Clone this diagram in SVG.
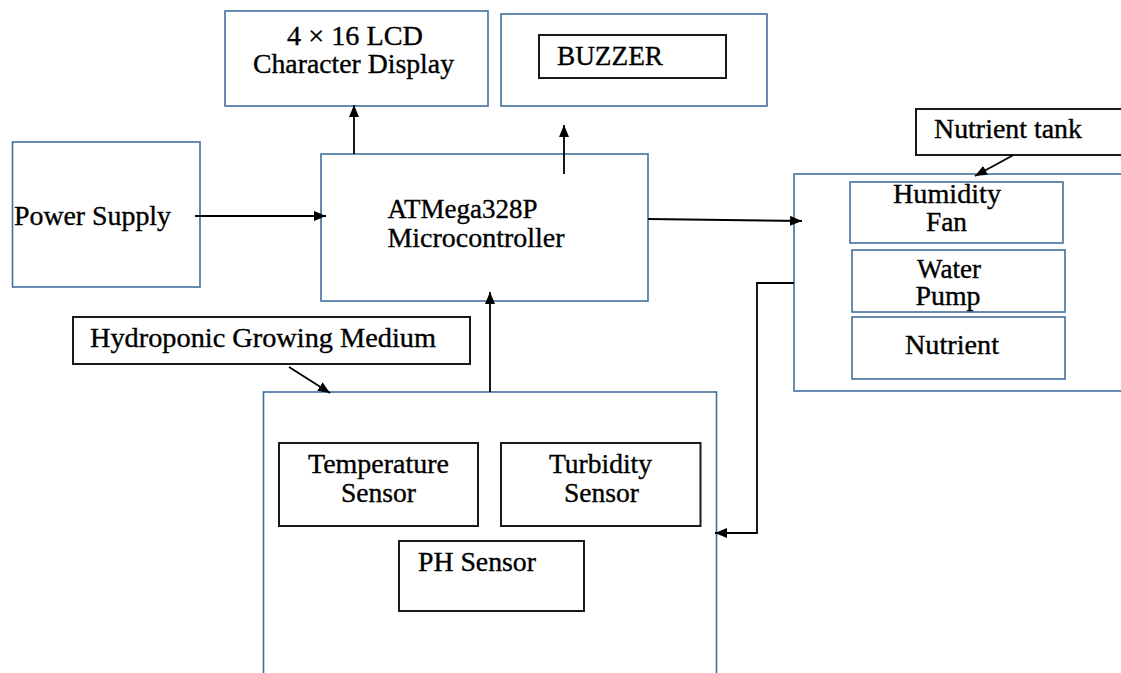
<svg xmlns="http://www.w3.org/2000/svg" width="1121" height="673" viewBox="0 0 1121 673">
<defs>
<marker id="ah" viewBox="0 0 12 10" refX="12" refY="5" markerWidth="12" markerHeight="10" markerUnits="userSpaceOnUse" orient="auto">
<path d="M0,0 L12,5 L0,10 z" fill="#000"/>
</marker>
</defs>
<style>
.b{fill:#fff;stroke:#41709e;stroke-width:1.6}
.k{fill:#fff;stroke:#1a1a1a;stroke-width:2}
text{font-family:"Liberation Serif","Times New Roman",serif;font-size:27px;fill:#000;stroke:#000;stroke-width:0.35}
.ln{fill:none;stroke:#000;stroke-width:1.8}
</style>
<rect width="1121" height="673" fill="#fff"/>
<g id="lcd">
<rect class="b" x="225" y="11" width="263" height="95"/>
<text x="287" y="45" textLength="136" lengthAdjust="spacingAndGlyphs">4 × 16 LCD</text>
<text x="253" y="73" textLength="201" lengthAdjust="spacingAndGlyphs">Character Display</text>
</g>
<g id="buzzer">
<rect class="b" x="501" y="14" width="266" height="92"/>
<rect class="k" x="539" y="35" width="187" height="43"/>
<text x="557" y="65" textLength="106" lengthAdjust="spacingAndGlyphs">BUZZER</text>
</g>
<g id="power">
<rect class="b" x="12.5" y="142" width="187.5" height="145"/>
<text x="14" y="225" textLength="157" lengthAdjust="spacingAndGlyphs">Power Supply</text>
</g>
<g id="mcu">
<rect class="b" x="321" y="154" width="327" height="147"/>
<text x="387.5" y="218" textLength="150" lengthAdjust="spacingAndGlyphs">ATMega328P</text>
<text x="387.5" y="247" textLength="177" lengthAdjust="spacingAndGlyphs">Microcontroller</text>
</g>
<g id="nutrient-tank">
<rect class="k" x="916" y="109" width="210" height="46"/>
<text x="934" y="138" textLength="148" lengthAdjust="spacingAndGlyphs">Nutrient tank</text>
</g>
<g id="actuators">
<rect class="b" x="794" y="174" width="335" height="217"/>
</g>
<g id="humidity-fan">
<rect class="b" x="850" y="182" width="213" height="61"/>
<text x="893" y="203" textLength="108" lengthAdjust="spacingAndGlyphs">Humidity</text>
<text x="926" y="231" textLength="41" lengthAdjust="spacingAndGlyphs">Fan</text>
</g>
<g id="water-pump">
<rect class="b" x="852" y="250" width="213" height="62"/>
<text x="917" y="278" textLength="64" lengthAdjust="spacingAndGlyphs">Water</text>
<text x="915.5" y="305" textLength="65" lengthAdjust="spacingAndGlyphs">Pump</text>
</g>
<g id="nutrient">
<rect class="b" x="852" y="317" width="213" height="62"/>
<text x="905" y="354" textLength="94" lengthAdjust="spacingAndGlyphs">Nutrient</text>
</g>
<g id="hydroponic">
<rect class="k" x="73" y="317" width="397" height="47"/>
<text x="90" y="347" textLength="346" lengthAdjust="spacingAndGlyphs">Hydroponic Growing Medium</text>
</g>
<g id="sensors">
<rect class="b" x="263.5" y="392" width="453" height="300"/>
</g>
<g id="temperature">
<rect class="k" x="279" y="443" width="199" height="83"/>
<text x="308" y="473" textLength="141" lengthAdjust="spacingAndGlyphs">Temperature</text>
<text x="341" y="502" textLength="75" lengthAdjust="spacingAndGlyphs">Sensor</text>
</g>
<g id="turbidity">
<rect class="k" x="501" y="443" width="199.5" height="83"/>
<text x="549" y="473" textLength="103" lengthAdjust="spacingAndGlyphs">Turbidity</text>
<text x="564" y="502" textLength="75" lengthAdjust="spacingAndGlyphs">Sensor</text>
</g>
<g id="ph">
<rect class="k" x="399" y="541" width="185" height="70"/>
<text x="418" y="571" textLength="118" lengthAdjust="spacingAndGlyphs">PH Sensor</text>
</g>
<g id="connectors">
<line class="ln" x1="354" y1="154" x2="354" y2="105" marker-end="url(#ah)"/>
<line class="ln" x1="564" y1="174" x2="564" y2="125" marker-end="url(#ah)"/>
<line class="ln" x1="195" y1="216" x2="326" y2="216" marker-end="url(#ah)"/>
<line class="ln" x1="648" y1="219" x2="802" y2="221" marker-end="url(#ah)"/>
<line class="ln" x1="1013.5" y1="155" x2="975" y2="176" marker-end="url(#ah)"/>
<line class="ln" x1="490" y1="392" x2="490" y2="292" marker-end="url(#ah)"/>
<line class="ln" x1="289" y1="367" x2="330" y2="393" marker-end="url(#ah)"/>
<polyline class="ln" points="794,283 757,283 757,533 715,533" marker-end="url(#ah)"/>
</g>
</svg>
